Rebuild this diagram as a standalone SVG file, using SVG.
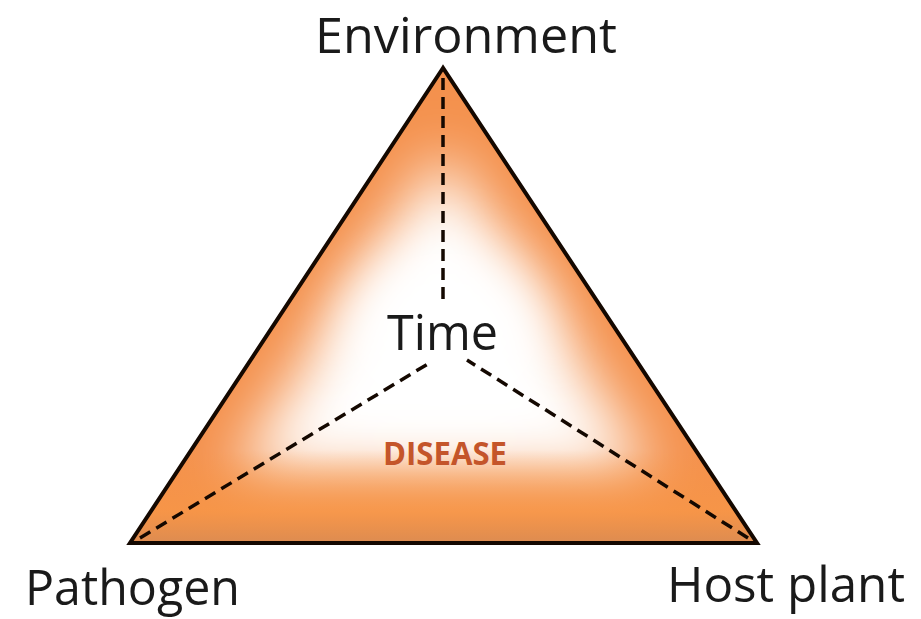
<svg xmlns="http://www.w3.org/2000/svg" width="921" height="619" viewBox="0 0 921 619">
<style>
.lbl{font-family:"Open Sans","Liberation Sans",sans-serif;fill:#1a1a1a;font-size:50px}
.dash{stroke:#140800;stroke-width:3.5;stroke-dasharray:12 7;fill:none}
</style>
<defs>
<clipPath id="tri"><polygon points="443,68 130,543 757,543"/></clipPath>
<filter id="blur" x="-50%" y="-50%" width="200%" height="200%"><feGaussianBlur stdDeviation="30"/></filter>
<linearGradient id="bottom" x1="0" y1="0" x2="0" y2="1">
<stop offset="0" stop-color="#f79646" stop-opacity="0"/>
<stop offset="0.65" stop-color="#f79646" stop-opacity="0.85"/>
<stop offset="1" stop-color="#d88a52"/>
</linearGradient>
</defs>
<rect width="921" height="619" fill="#ffffff"/>
<g id="triangle">
<g clip-path="url(#tri)">
<rect x="120" y="60" width="650" height="490" fill="#f4914d"/>
<polygon points="443,150 232,476 654,476" fill="#ffffff" filter="url(#blur)"/>
<ellipse cx="445" cy="330" rx="100" ry="80" fill="#ffffff" filter="url(#blur)"/>
<rect x="120" y="450" width="650" height="95" fill="url(#bottom)" opacity="0.9"/>
</g>
<polygon points="443,68 130,543 757,543" fill="none" stroke="#140800" stroke-width="4" stroke-linejoin="miter"/>
</g>
<g id="connectors">
<line class="dash" x1="443" y1="78" x2="443" y2="302"/>
<line class="dash" x1="140" y1="538" x2="431" y2="362"/>
<line class="dash" x1="748" y1="538" x2="467" y2="360"/>
</g>
<g id="environment"><text class="lbl" x="315" y="53" textLength="302" lengthAdjust="spacingAndGlyphs">Environment</text></g>
<g id="time"><text class="lbl" x="387" y="350" textLength="111" lengthAdjust="spacingAndGlyphs">Time</text></g>
<g id="disease"><text x="383" y="465" font-family="'Open Sans','Liberation Sans',sans-serif" font-weight="bold" font-size="32" fill="#c4552a" textLength="124" lengthAdjust="spacingAndGlyphs">DISEASE</text></g>
<g id="pathogen"><text class="lbl" x="25" y="605" textLength="215" lengthAdjust="spacingAndGlyphs">Pathogen</text></g>
<g id="host"><text class="lbl" x="667" y="602" textLength="238" lengthAdjust="spacingAndGlyphs">Host plant</text></g>
</svg>
